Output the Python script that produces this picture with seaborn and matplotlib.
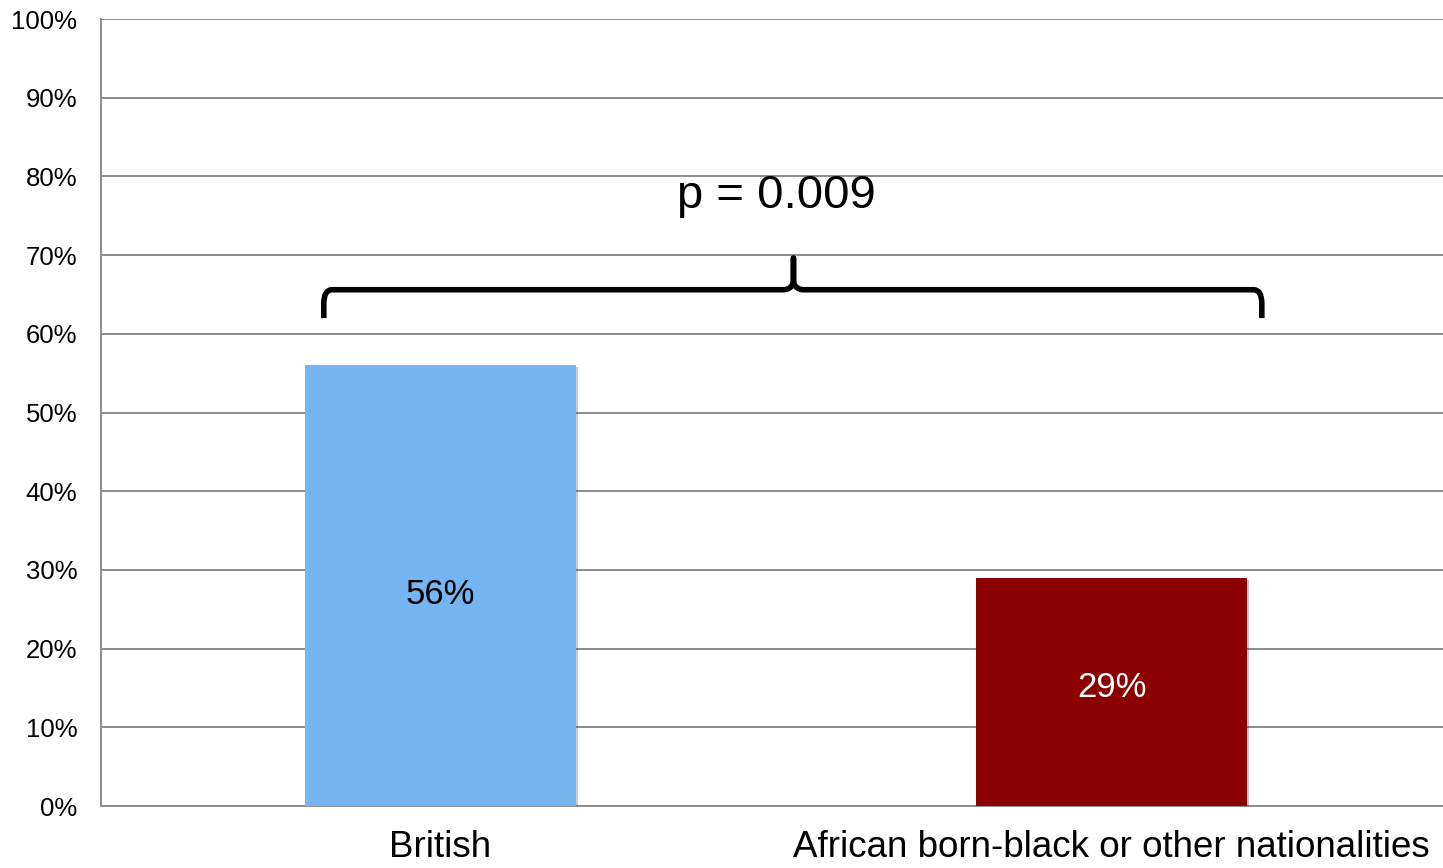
import numpy as np
import pandas as pd
import matplotlib
matplotlib.use("Agg")
import matplotlib.pyplot as plt
import matplotlib.patheffects as pe
from matplotlib.path import Path
from matplotlib.patches import PathPatch
import seaborn as sns

# data
categories = ["British", "African born-black or other nationalities"]
values = [56, 29]
bar_colors = ["#75B6F2", "#8B0000"]
label_colors = ["black", "white"]
p_text = "p = 0.009"
yticks = list(range(0, 101, 10))

sns.set_theme(style="white")
plt.rcParams["font.family"] = ["Liberation Sans", "DejaVu Sans"]

df = pd.DataFrame({"group": categories, "pct": values})

fig = plt.figure(figsize=(14.43, 8.68), dpi=100)
ax = fig.add_axes([0.070, 0.0714, 0.930, 0.9067])

sns.barplot(data=df, x="group", y="pct", hue="group", palette=bar_colors,
            width=0.404, dodge=False, legend=False, ax=ax, saturation=1)

for patch in ax.patches:
    patch.set_linewidth(0)
    patch.set_path_effects([pe.SimplePatchShadow(offset=(1.5, -1.5), alpha=0.25),
                            pe.Normal()])
    patch.set_zorder(3)

# grid + axes
ax.set_ylim(0, 100)
ax.set_xlim(-0.506, 1.494)
ax.set_yticks(yticks)
ax.set_yticklabels([f"{t}%" for t in yticks], fontsize=18.5)
ax.yaxis.grid(True, color="#8c8c8c", linewidth=1.4, zorder=0)
ax.set_axisbelow(True)
for s in ["top", "right"]:
    ax.spines[s].set_visible(False)
ax.spines["left"].set_color("#8c8c8c")
ax.spines["left"].set_linewidth(1.4)
ax.spines["bottom"].set_color("#8c8c8c")
ax.spines["bottom"].set_linewidth(1.4)
ax.tick_params(axis="y", length=8, width=1.4, color="#8c8c8c", pad=9, labelcolor="black")

# x ticks: dividers as major ticks, names as minor
ax.set_xticks([-0.506, 0.5])
ax.set_xticklabels(["", ""])
ax.tick_params(axis="x", which="major", length=9, width=1.2, color="#8c8c8c", direction="out")
ax.set_xticks(range(len(categories)), minor=True)
ax.set_xticklabels(categories, minor=True, fontsize=26.5)
ax.tick_params(axis="x", which="minor", length=0, pad=17, labelcolor="black")
ax.set_xlabel("")
ax.set_ylabel("")

# value labels inside bars
for i, v in enumerate(values):
    ax.text(i, v / 2 + (0.6 if v < 40 else -1.1), f"{v}%", ha="center", va="center",
            fontsize=25, color=label_colors[i], zorder=5)

# brace over both bars
x0, x1 = -0.174, 1.224
xm = 0.526
yb, yh, yt = 62.0, 65.6, 69.6
r = 0.012
verts = [(x0, yb), (x0, yh - 1.8), (x0, yh), (x0 + r, yh),
         (xm - 0.015, yh), (xm - 0.003, yh), (xm, yh + 1.0), (xm, yt),
         (xm, yh + 1.0), (xm + 0.003, yh), (xm + 0.015, yh),
         (x1 - r, yh), (x1, yh), (x1, yh - 1.8), (x1, yb)]
codes = [Path.MOVETO, Path.LINETO, Path.CURVE3, Path.CURVE3,
         Path.LINETO, Path.CURVE3, Path.CURVE3, Path.LINETO,
         Path.LINETO, Path.CURVE3, Path.CURVE3,
         Path.LINETO, Path.CURVE3, Path.CURVE3, Path.LINETO]
brace = PathPatch(Path(verts, codes), fill=False, lw=4, color="black",
                  capstyle="butt", joinstyle="round", zorder=6, clip_on=False)
ax.add_patch(brace)

ax.text(0.5, 77.5, p_text, ha="center", va="center", fontsize=34, color="black", zorder=6)

fig.savefig("out.png", dpi=100)
